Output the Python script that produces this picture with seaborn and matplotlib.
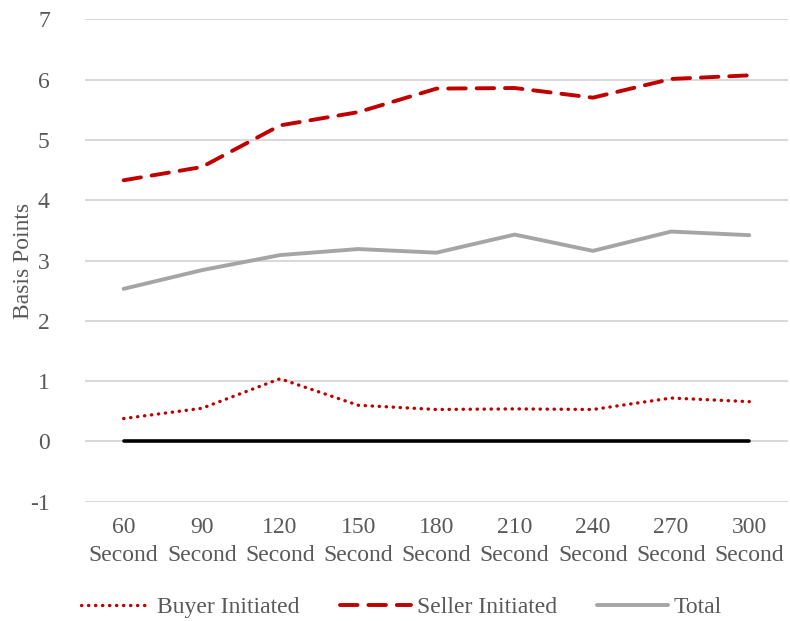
import pandas as pd
import matplotlib
matplotlib.use("Agg")
import matplotlib.pyplot as plt
import seaborn as sns

# Data
intervals = ["60", "90", "120", "150", "180", "210", "240", "270", "300"]
buyer = [0.38, 0.55, 1.04, 0.60, 0.53, 0.54, 0.53, 0.72, 0.66]
seller = [4.33, 4.55, 5.24, 5.46, 5.85, 5.86, 5.70, 6.01, 6.07]
total = [2.53, 2.84, 3.09, 3.19, 3.13, 3.43, 3.16, 3.48, 3.42]
baseline = [0] * len(intervals)

labels = [f"{i}\nSecond" for i in intervals]

sns.set_theme(style="white")
plt.rcParams['font.family'] = ['Liberation Serif', 'DejaVu Serif']
plt.rcParams['axes.unicode_minus'] = False
text_col = "#595959"
fs = 17

fig, ax = plt.subplots(figsize=(7.9, 6.21), dpi=100)
fig.subplots_adjust(left=0.107, right=0.998, top=0.969, bottom=0.192)

x = list(range(len(labels)))

sns.lineplot(x=x, y=baseline, color="black", linewidth=2.6, ax=ax,
             solid_capstyle="round", zorder=3)
sns.lineplot(x=x, y=buyer, color="#c00000", linewidth=2.4, ax=ax,
             label="Buyer Initiated", linestyle=(0, (0.1, 2.0)),
             dash_capstyle="round", zorder=4)
sns.lineplot(x=x, y=seller, color="#c00000", linewidth=2.8, ax=ax,
             label="Seller Initiated", linestyle=(0, (4.5, 2.8)),
             dash_capstyle="round", zorder=4)
sns.lineplot(x=x, y=total, color="#a5a5a5", linewidth=2.8, ax=ax,
             label="Total", solid_capstyle="round", zorder=4)

ax.set_xlim(-0.5, len(labels) - 0.5)
ax.set_ylim(-1, 7)
ax.set_yticks(range(-1, 8))
ax.set_xticks(x)
ax.set_xticklabels(labels, linespacing=1.45)
ax.yaxis.grid(True, color="#d9d9d9", linewidth=1.5)
ax.xaxis.grid(False)
ax.set_axisbelow(True)
for s in ax.spines.values():
    s.set_visible(False)
ax.tick_params(axis="both", length=0, labelsize=fs, colors=text_col)
ax.tick_params(axis="x", pad=11)
ax.tick_params(axis="y", pad=25)
ax.set_ylabel("Basis Points", fontsize=fs, color=text_col, labelpad=-3)
ax.set_xlabel("")

leg = ax.legend(loc="upper center", bbox_to_anchor=(0.45, -0.152), ncol=3,
                frameon=False, fontsize=fs, handlelength=3.0,
                handletextpad=0.25, columnspacing=1.7)
for t in leg.get_texts():
    t.set_color(text_col)

fig.savefig("out.png", dpi=100)
